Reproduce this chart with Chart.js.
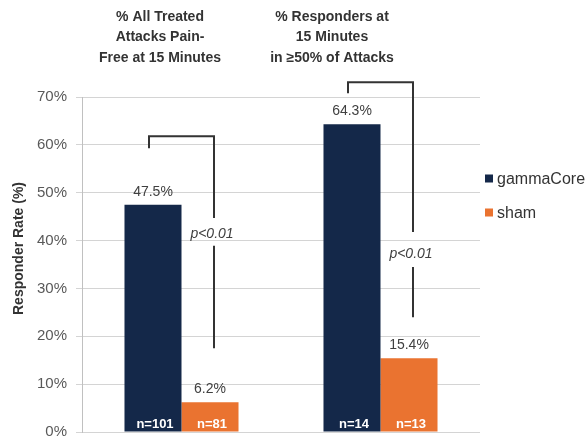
<!DOCTYPE html>
<html>
<head>
<meta charset="utf-8">
<script src="https://cdn.jsdelivr.net/npm/chart.js@4"></script>
<style>
html,body{margin:0;padding:0;background:#fff;}
</style>
</head>
<body>
<canvas id="c" width="586" height="442"></canvas>
<script>
// ---- data ----
const categories = [
  ['% All Treated', 'Attacks Pain-', 'Free at 15 Minutes'],
  ['% Responders at', '15 Minutes', 'in \u226550% of Attacks']
];
const seriesNames = ['gammaCore', 'sham'];
const gammaCore = [47.5, 64.3];
const sham = [6.2, 15.4];
const gammaN = ['n=101', 'n=14'];
const shamN = ['n=81', 'n=13'];
const pText = ['p<0.01', 'p<0.01'];
// bracket annotation levels (in % units)
const bracketTop = [61.8, 73.1];
const bracketLeftEnd = [59.3, 70.8];
const bracketRightEnd = [44.7, 41.8];
const pTextLevel = [41.4, 37.2];
const lowerStart = [38.9, 34.5];
const lowerEnd = [17.5, 24.0];
const yTicks = [0, 10, 20, 30, 40, 50, 60, 70];

const NAVY = '#142849';
const ORANGE = '#ea7330';
const FONT = '"Liberation Sans", Arial, Helvetica, sans-serif';

const overlay = {
  id: 'overlay',
  afterDatasetsDraw(chart) {
    const ctx = chart.ctx;
    const y = chart.scales.y;
    const x = chart.scales.x;
    const ca = chart.chartArea;
    const m0 = chart.getDatasetMeta(0), m1 = chart.getDatasetMeta(1);
    ctx.save();
    ctx.textAlign = 'center';
    ctx.textBaseline = 'middle';
    [m0, m1].forEach((meta, di) => {
      const vals = di === 0 ? gammaCore : sham;
      const ns = di === 0 ? gammaN : shamN;
      meta.data.forEach((bar, i) => {
        ctx.fillStyle = '#404040';
        ctx.font = '14px ' + FONT;
        ctx.fillText(vals[i].toFixed(1) + '%', bar.x, bar.y - 13);
        ctx.fillStyle = '#ffffff';
        ctx.font = 'bold 13px ' + FONT;
        ctx.fillText(ns[i], bar.x + 2, y.getPixelForValue(0) - 8);
      });
    });
    ctx.strokeStyle = '#333333';
    ctx.lineWidth = 2;
    categories.forEach((c, i) => {
      const cx = x.getPixelForValue(i);
      const lx = cx - 32.5, rx = cx + 32.5;
      ctx.beginPath();
      ctx.moveTo(lx, y.getPixelForValue(bracketLeftEnd[i]));
      ctx.lineTo(lx, y.getPixelForValue(bracketTop[i]));
      ctx.lineTo(rx, y.getPixelForValue(bracketTop[i]));
      ctx.lineTo(rx, y.getPixelForValue(bracketRightEnd[i]));
      ctx.moveTo(rx, y.getPixelForValue(lowerStart[i]));
      ctx.lineTo(rx, y.getPixelForValue(lowerEnd[i]));
      ctx.stroke();
      ctx.fillStyle = '#404040';
      ctx.font = 'italic 14px ' + FONT;
      ctx.fillText(pText[i], rx - 2, y.getPixelForValue(pTextLevel[i]));
    });
    const titleOffsets = [-21.5, -48.5];
    ctx.fillStyle = '#333333';
    ctx.font = 'bold 14px ' + FONT;
    categories.forEach((lines, i) => {
      const cx = x.getPixelForValue(i) + titleOffsets[i];
      lines.forEach((t, k) => ctx.fillText(t, cx, 17 + k * 20.5));
    });
    ctx.save();
    ctx.translate(19, (ca.top + ca.bottom) / 2 - 16);
    ctx.rotate(-Math.PI / 2);
    ctx.font = 'bold 14px ' + FONT;
    ctx.fillStyle = '#333333';
    ctx.fillText('Responder Rate (%)', 0, 0);
    ctx.restore();
    const colors = [NAVY, ORANGE];
    const legY = [178.5, 212.5];
    ctx.textAlign = 'left';
    ctx.font = '16px ' + FONT;
    seriesNames.forEach((n, i) => {
      ctx.fillStyle = colors[i];
      ctx.fillRect(ca.right + 5, legY[i] - 4, 8, 8);
      ctx.fillStyle = '#333333';
      ctx.fillText(n, ca.right + 17, legY[i] + 1);
    });
    ctx.restore();
  }
};

new Chart(document.getElementById('c'), {
  type: 'bar',
  data: {
    labels: categories.map(l => l.join(' ')),
    datasets: [
      { label: seriesNames[0], data: gammaCore, backgroundColor: NAVY, borderWidth: 0 },
      { label: seriesNames[1], data: sham, backgroundColor: ORANGE, borderWidth: 0 }
    ]
  },
  options: {
    responsive: false,
    animation: false,
    devicePixelRatio: 1,
    layout: { padding: { left: 0, right: 106, top: 97, bottom: 10 } },
    plugins: { legend: { display: false }, tooltip: { enabled: false }, title: { display: false } },
    datasets: { bar: { barPercentage: 1.0, categoryPercentage: 0.573 } },
    scales: {
      x: { display: false, offset: true },
      y: {
        min: 0, max: 70,
        afterFit(s) { s.width = 82; s.paddingBottom = 0; s.paddingTop = 0; },
        afterBuildTicks(s) { s.ticks = yTicks.map(v => ({ value: v })); },
        ticks: {
          padding: 9,
          color: '#595959',
          font: { family: FONT, size: 15 },
          callback: v => v + '%'
        },
        grid: { color: '#d4d4d4', lineWidth: 1, tickLength: 6 },
        border: { color: '#c0c0c0', width: 1 }
      }
    }
  },
  plugins: [overlay]
});
</script>
</body>
</html>
